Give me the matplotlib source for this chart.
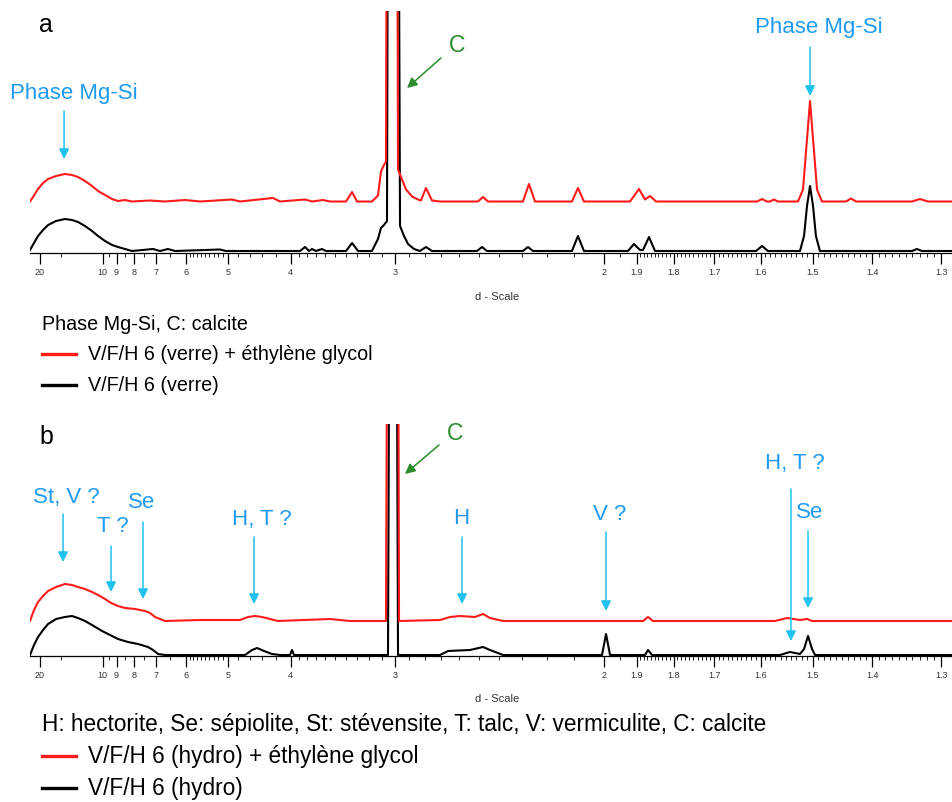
import matplotlib
matplotlib.use("Agg")
import matplotlib.pyplot as plt
from matplotlib.lines import Line2D

plt.rcParams["font.family"] = ["Liberation Sans", "DejaVu Sans"]

# ---------------- data ----------------
# x: reciprocal spacing s = 1/d (10^-3 / Angstrom) ; y: intensity above the trace baseline
a_red_s = [42.0, 45.2, 48.4, 52.4, 56.4, 62.8, 69.9, 75.5, 80.3, 85.9, 91.5, 96.3, 101.9, 107.5,
           112.2, 117.8, 123.4, 137.8, 149.8, 165.7, 177.7, 203.2, 209.6, 235.9, 241.5, 261.5,
           267.1, 275.8, 281.4, 294.2, 299.0, 303.0, 314.9, 319.7, 322.1, 324.5, 326.1, 327.7,
           334.1, 335.7, 338.9, 342.1, 346.9, 351.6, 354.0, 358.0, 362.8, 369.2, 381.2, 399.5,
           403.5, 407.5, 435.4, 440.2, 445.0, 474.5, 479.3, 484.1, 520.8, 528.0, 532.8, 536.8,
           541.6, 576.7, 622.2, 626.2, 630.1, 632.5, 635.7, 638.9, 654.9, 658.9, 661.3, 664.5,
           667.7, 670.1, 674.0, 693.2, 697.2, 701.2, 745.9, 752.2, 758.6, 777.8]
a_red_i = [0, 6, 12.5, 18.5, 22.5, 25.5, 27.5, 26.5, 24.5, 20.5, 15.5, 10.5, 6.5, 2.5,
           0.5, 1.5, 0, 1, 0, 1.5, 0, 2, 0, 3.5, 0, 2,
           0, 1.5, 0, 0, 9.5, 0, 0, 6, 30, 36.5, 40, 800,
           800, 32, 22, 12, 5, 2, 1, 13.5, 1, 0, 0, 0,
           4.5, 0, 0, 17.5, 0, 0, 13.5, 0, 0, 12.5, 2, 5.5,
           0, 0, 0, 2.5, 0, 0, 2, 0, 0, 12, 50, 100.5,
           50, 12, 0, 0, 3, 0, 0, 2.5, 0, 0]

a_blk_s = [42.0, 45.2, 48.4, 52.4, 56.4, 62.8, 69.9, 75.5, 80.3, 85.9, 91.5, 96.3, 101.9, 107.5,
           112.2, 117.8, 123.4, 140.2, 145.8, 152.1, 157.7, 193.6, 198.4, 257.5, 261.5, 264.7,
           267.1, 270.2, 275.0, 278.2, 294.2, 299.0, 303.8, 314.9, 319.7, 322.1, 324.5, 326.9,
           328.5, 334.9, 337.3, 340.5, 343.7, 348.5, 353.2, 358.0, 362.8, 398.7, 402.7, 406.7,
           435.4, 439.4, 443.4, 474.5, 479.3, 484.1, 519.2, 524.0, 528.8, 531.2, 536.0, 540.8,
           621.4, 626.2, 630.9, 656.5, 659.7, 662.1, 664.5, 666.9, 669.2, 672.4, 745.9, 749.8,
           753.8, 777.8]
a_blk_i = [1, 8, 15, 21, 26, 30, 32, 31, 29, 25, 20, 15, 10, 6,
           4, 2, 0, 2, 0, 2, 0, 1.5, 0, 0, 4, 0,
           2, 0, 2, 0, 0, 8, 0, 0, 12, 23, 26, 30,
           800, 800, 25, 15, 7, 2, 0, 4, 0, 0, 4, 0,
           0, 4, 0, 0, 15, 0, 0, 7, 1, 1, 14, 0,
           0, 5, 0, 0, 15, 45, 65, 45, 15, 0, 0, 2,
           0, 0]

b_red_s = [42.0, 45.2, 48.4, 52.4, 56.4, 62.8, 69.9, 75.5, 80.3, 85.9, 91.5, 96.3, 101.9, 106.7,
           112.2, 117.8, 125.8, 133.8, 137.8, 141.8, 145.8, 149.8, 177.7, 209.6, 216.0, 221.6,
           227.2, 233.5, 239.9, 281.4, 297.4, 326.1, 328.5, 334.9, 336.5, 369.2, 377.2, 385.2,
           397.1, 403.5, 409.1, 419.5, 496.9, 531.2, 535.2, 539.2, 636.5, 646.1, 656.5, 662.1,
           666.1, 777.8]
b_red_i = [0, 11, 19, 25, 30, 34, 37, 36, 34, 32, 29, 26, 22, 18,
           15, 13, 12, 10, 8, 4, 2, 0, 1, 1, 4, 5,
           4, 2, 0, 2, 0, 0, 800, 800, 0, 1, 4, 5,
           4, 7, 3, 0, 0, 0, 4, 0, 0, 3, 1, 2,
           0, 0]

b_blk_s = [42.0, 45.2, 48.4, 52.4, 56.4, 62.8, 69.9, 75.5, 80.3, 85.9, 91.5, 99.5, 105.9, 112.2,
           120.2, 128.2, 136.2, 140.2, 144.2, 149.8, 213.6, 219.2, 223.2, 228.8, 235.1, 241.5,
           249.5, 251.1, 252.7, 327.7, 330.1, 333.3, 335.7, 369.2, 375.6, 393.1, 403.5, 409.1,
           419.5, 498.5, 501.7, 504.9, 532.8, 535.2, 538.4, 640.5, 648.5, 656.5, 659.7, 662.9,
           666.1, 668.5, 777.8]
b_blk_i = [0, 10, 18, 25, 31, 36, 38, 39, 37, 34, 30, 24, 20, 16,
           13, 11, 8, 5, 1, 0, 0, 5, 7, 4, 1, 0,
           0, 5, 0, 0, 800, 800, 0, 0, 4, 5, 8, 5,
           0, 0, 21, 0, 0, 5, 0, 0, 3, 1, 6, 19,
           6, 0, 0]

tick_d = [20, 10, 9, 8, 7, 6, 5, 4, 3, 2, 1.9, 1.8, 1.7, 1.6, 1.5, 1.4, 1.3]
tick_labels = ["20", "10", "9", "8", "7", "6", "5", "4", "3", "2",
               "1.9", "1.8", "1.7", "1.6", "1.5", "1.4", "1.3"]

series_a = ["V/F/H 6 (verre) + éthylène glycol", "V/F/H 6 (verre)"]
series_b = ["V/F/H 6 (hydro) + éthylène glycol", "V/F/H 6 (hydro)"]
caption_a = "Phase Mg-Si, C: calcite"
caption_b = "H: hectorite, Se: sépiolite, St: stévensite, T: talc, V: vermiculite, C: calcite"

# ---------------- styles / layout ----------------
W, H = 953, 803
RED = "#ff1a1a"
BLUE_T = "#1e9af5"
BLUE_A = "#21c1ee"
GREEN = "#2a8c2a"
SMIN, SMAX = 42.0, 777.8

fig = plt.figure(figsize=(W / 100, H / 100), dpi=100)


def px_axes(x0, y0, x1, y1):
    return fig.add_axes([x0 / W, 1 - y1 / H, (x1 - x0) / W, (y1 - y0) / H])


minor_d = [15, 9.5, 8.5, 7.5, 6.5]
minor_d += [round(5.1 + 0.1 * k, 2) for k in range(9)]
minor_d += [4.8, 4.6, 4.4, 4.2]
minor_d += [round(3.1 + 0.1 * k, 2) for k in range(9)]
minor_d += [round(2.1 + 0.1 * k, 2) for k in range(9)]
minor_d += [1.95]
minor_d += [round(1.3 + 0.01 * k, 2) for k in range(61) if k % 10 != 0]


def style_axis(ax, ytop):
    ax.set_xlim(SMIN, SMAX)
    ax.set_ylim(0, ytop)
    for sp in ("top", "left", "right"):
        ax.spines[sp].set_visible(False)
    ax.spines["bottom"].set_linewidth(0.9)
    ax.set_yticks([])
    ax.set_xticks([1000.0 / d for d in tick_d])
    ax.set_xticklabels(tick_labels)
    ax.set_xticks([1000.0 / d for d in minor_d], minor=True)
    ax.tick_params(axis="x", which="major", length=7.9, width=0.9, pad=2.5,
                   labelsize=6.5, labelcolor="#333333", direction="out")
    ax.tick_params(axis="x", which="minor", length=3.2, width=0.6, direction="out")
    ax.patch.set_alpha(0)


def arrow(ax, s_tip, y_tip, s_tail, y_tail, color):
    ax.annotate("", xy=(s_tip, y_tip), xytext=(s_tail, y_tail),
                arrowprops=dict(arrowstyle="-|>,head_length=0.6,head_width=0.3",
                                color=color, lw=1.1, shrinkA=0, shrinkB=0,
                                mutation_scale=10),
                annotation_clip=False)


# ---------- panel a ----------
axA = px_axes(30, 12, 952, 254)
style_axis(axA, 242)
axA.plot(a_blk_s, [v + 2 for v in a_blk_i], color="black", lw=1.5)
axA.plot(a_red_s, [v + 51.5 for v in a_red_i], color=RED, lw=1.5)

axA.text(77.1, 161, "Phase Mg-Si", color=BLUE_T, fontsize=16, ha="center", va="center")
arrow(axA, 69.2, 94, 69.2, 142, BLUE_A)
axA.text(671.7, 226, "Phase Mg-Si", color=BLUE_T, fontsize=16, ha="center", va="center")
arrow(axA, 664.5, 157, 664.5, 206, BLUE_A)
axA.text(382.8, 209, "C", color=GREEN, fontsize=16.5, ha="center", va="center")
arrow(axA, 342.9, 165, 370.0, 195, GREEN)

# ---------- panel b ----------
axB = px_axes(30, 425, 952, 657)
style_axis(axB, 232)
axB.plot(b_blk_s, [v + 1 for v in b_blk_i], color="black", lw=1.5)
axB.plot(b_red_s, [v + 35 for v in b_red_i], color=RED, lw=1.5)

b_ann_text = ["St, V ?", "T ?", "Se", "H, T ?", "H", "V ?", "H, T ?", "Se"]
b_ann_tx = [70.7, 108.3, 131.4, 227.2, 385.9, 504.9, 652.5, 664.5]
b_ann_ty = [160, 130, 154, 138, 138, 142, 194, 145]
b_ann_ax = [68.4, 106.7, 132.2, 220.8, 386.8, 501.7, 649.3, 662.9]
b_ann_tail = [142, 110, 134, 119, 119, 124, 167, 125]
b_ann_tip = [94, 64, 57, 52, 52, 45, 15, 48]
for t, tx, ty, ax_, ytl, ytp in zip(b_ann_text, b_ann_tx, b_ann_ty, b_ann_ax, b_ann_tail, b_ann_tip):
    axB.text(tx, ty, t, color=BLUE_T, fontsize=16, ha="center", va="center")
    arrow(axB, ax_, ytp, ax_, ytl, BLUE_A)
axB.text(381.2, 224, "C", color=GREEN, fontsize=16.5, ha="center", va="center")
arrow(axB, 341.3, 182, 368.4, 211, GREEN)

# ---------- figure texts ----------
def ftext(x, y, s, **kw):
    fig.text(x / W, 1 - y / H, s, **kw)


ftext(46, 25, "a", fontsize=18, ha="center", va="center")
ftext(46, 437, "b", fontsize=18, ha="center", va="center")
ftext(497, 297, "d - Scale", fontsize=8, ha="center", va="center", color="#333333")
ftext(497, 699, "d - Scale", fontsize=8, ha="center", va="center", color="#333333")

ftext(42, 325, caption_a, fontsize=14.2, ha="left", va="center")
ftext(42, 725, caption_b, fontsize=16.3, ha="left", va="center")

for (label, col, y, fs) in [(series_a[0], RED, 355, 14.2), (series_a[1], "black", 386, 14.2),
                            (series_b[0], RED, 757, 16.3), (series_b[1], "black", 789, 16.3)]:
    fig.add_artist(Line2D([42 / W, 76 / W], [1 - y / H, 1 - y / H], color=col, lw=2.4,
                          transform=fig.transFigure))
    ftext(88, y, label, fontsize=fs, ha="left", va="center")

fig.savefig("out.png", dpi=100)
